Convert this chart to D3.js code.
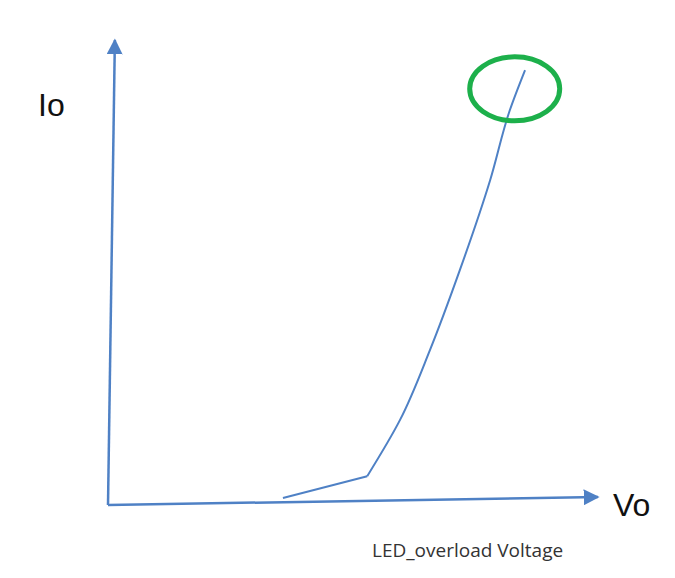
<!DOCTYPE html>
<html><head><meta charset="utf-8">
<script src="https://cdn.jsdelivr.net/npm/d3@7"></script>
<style>body{margin:0;background:#fff}</style></head>
<body><svg id="c" width="675" height="578"></svg>
<script>
const voltage = [35.7, 52.9, 59.6, 65.7, 71.8, 78.0, 82.0, 85.1];
const current = [1.5, 6.2, 18.3, 33.3, 50.5, 69.9, 84.9, 93.5];
const highlightPoint = [83.0, 89.5];
const labels = {y:"Io", x:"Vo", caption:"LED_overload Voltage"};

const svg = d3.select("#c");
const x = d3.scaleLinear().domain([0,100]).range([108,598]);
const y = d3.scaleLinear().domain([0,100]).range([505,40]);
const blue = "#4f81c5";

const defs = svg.append("defs");
defs.append("marker").attr("id","arr").attr("viewBox","0 0 10 10").attr("refX",9).attr("refY",5)
  .attr("markerWidth",10).attr("markerHeight",10).attr("markerUnits","userSpaceOnUse")
  .attr("orient","auto").append("path").attr("d","M0,0L10,5L0,10z").attr("fill",blue);
defs.select("marker").attr("markerWidth",16).attr("markerHeight",16);

// axes
svg.append("line").attr("x1",x(0)).attr("y1",y(0)).attr("x2",x(1.4)).attr("y2",y(0)-465)
  .attr("stroke",blue).attr("stroke-width",2.5).attr("marker-end","url(#arr)");
svg.append("line").attr("x1",x(0)).attr("y1",y(0)).attr("x2",x(100)).attr("y2",y(1.7))
  .attr("stroke",blue).attr("stroke-width",2.5).attr("marker-end","url(#arr)");

const pts = voltage.map((v,i)=>[x(v),y(current[i])]);
svg.append("path").attr("d", d3.line().curve(d3.curveLinear)(pts.slice(0,2)))
  .attr("fill","none").attr("stroke",blue).attr("stroke-width",2);
svg.append("path").attr("d", d3.line().curve(d3.curveMonotoneY)(pts.slice(1)))
  .attr("fill","none").attr("stroke",blue).attr("stroke-width",2);

svg.append("ellipse").attr("cx",x(highlightPoint[0])).attr("cy",y(highlightPoint[1]))
  .attr("rx",45).attr("ry",32).attr("fill","none").attr("stroke","#1db04b").attr("stroke-width",5);

svg.append("text").attr("x",38).attr("y",116).text(labels.y)
  .attr("font-family","Liberation Sans, Arial").attr("font-size",32).attr("fill","#111");
svg.append("text").attr("x",613).attr("y",516).text(labels.x)
  .attr("font-family","Liberation Sans, Arial").attr("font-size",32).attr("fill","#111");
svg.append("text").attr("x",372).attr("y",557).text(labels.caption)
  .attr("font-family","Open Sans, Liberation Sans").attr("font-size",19).attr("fill","#333");
</script></body></html>
